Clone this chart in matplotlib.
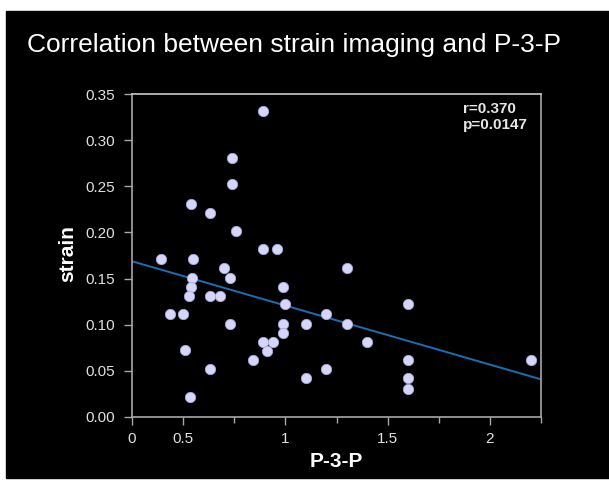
import numpy as np
import matplotlib
matplotlib.use("Agg")
import matplotlib.pyplot as plt
from matplotlib.patches import Rectangle

plt.rcParams['font.family'] = ['Liberation Sans', 'DejaVu Sans']

# P-3-P vs strain
p3p = [0.89, 0.74, 0.74, 0.54, 0.63, 0.76, 0.89, 0.96, 0.39, 0.55,
       0.70, 0.73, 0.545, 0.54, 0.53, 0.63, 0.68, 0.99, 1.0, 1.3,
       0.435, 0.50, 1.2, 0.73, 0.99, 1.1, 1.3, 0.99, 0.89, 0.94,
       1.4, 0.91, 0.51, 0.84, 0.63, 1.2, 1.1, 0.535, 1.6, 1.6,
       2.2, 1.6, 1.6]
strain = [0.332, 0.281, 0.253, 0.231, 0.221, 0.202, 0.182, 0.182, 0.171, 0.171,
          0.161, 0.151, 0.151, 0.141, 0.131, 0.131, 0.131, 0.141, 0.122, 0.161,
          0.112, 0.112, 0.112, 0.101, 0.101, 0.101, 0.101, 0.091, 0.081, 0.081,
          0.081, 0.071, 0.072, 0.062, 0.052, 0.052, 0.042, 0.021, 0.122, 0.062,
          0.062, 0.042, 0.030]

title = "Correlation between strain imaging and P-3-P"
stats_text = "r=0.370\np=0.0147"
x_major = [0.25, 0.5, 1.0, 1.5, 2.0]
x_major_labels = ["0", "0.5", "1", "1.5", "2"]
x_minor = [0.75, 1.25, 1.75, 2.25]
y_ticks = [0.0, 0.05, 0.10, 0.15, 0.20, 0.25, 0.30, 0.35]

fig = plt.figure(figsize=(6.09, 4.84), dpi=100, facecolor='white')
# black slide area inside a thin white margin
fig.patches.append(Rectangle((6/609, 6/484), 1 - 6/609, 1 - 17/484,
                             transform=fig.transFigure, color='black', zorder=-5))

ax = fig.add_axes([132/609, 1 - 416.7/484, 409/609, 322.4/484])
ax.set_facecolor('black')

ax.scatter(p3p, strain, s=55, color='#d6d6fa', edgecolors='#a8a8dc',
           linewidths=0.6, zorder=3)

# least squares line across the whole axis
slope, icept = np.polyfit(p3p, strain, 1)
xs = np.array([0.25, 2.25])
ax.plot(xs, icept + slope * xs, color='#1a6fb4', lw=1.4, zorder=2)

ax.set_xlim(0.25, 2.25)
ax.set_ylim(0, 0.35)
ax.set_xticks(x_major)
ax.set_xticklabels(x_major_labels)
ax.set_xticks(x_minor, minor=True)
ax.set_yticks(y_ticks)
ax.set_yticklabels(["%.2f" % v for v in y_ticks])

for side, sp in ax.spines.items():
    sp.set_color('#a8a8a8')
    sp.set_linewidth(1.2)
ax.spines['top'].set_color('#c8c8c8')

ax.tick_params(axis='both', which='both', colors='#a8a8a8', labelcolor='#e0e0e0',
               labelsize=11, direction='out', width=1)
ax.tick_params(axis='y', length=6, pad=6)
ax.tick_params(axis='x', which='major', length=6, pad=5)
ax.tick_params(axis='x', which='minor', length=4)

ax.set_xlabel("P-3-P", color='white', fontsize=15, fontweight='bold')
ax.xaxis.set_label_coords(0.5, -0.11)
ax.set_ylabel("strain", color='white', fontsize=15, fontweight='bold')
ax.yaxis.set_label_coords(-0.133, 0.505)

ax.text(0.8085, 0.976, stats_text, transform=ax.transAxes, color='#e6e6e6',
        fontsize=11, fontweight='bold', va='top', ha='left', linespacing=1.2)

fig.text(27/609, 1 - 45/484, title, color='white', fontsize=19,
         va='center', ha='left')

fig.savefig("out.png", dpi=100, facecolor=fig.get_facecolor())
